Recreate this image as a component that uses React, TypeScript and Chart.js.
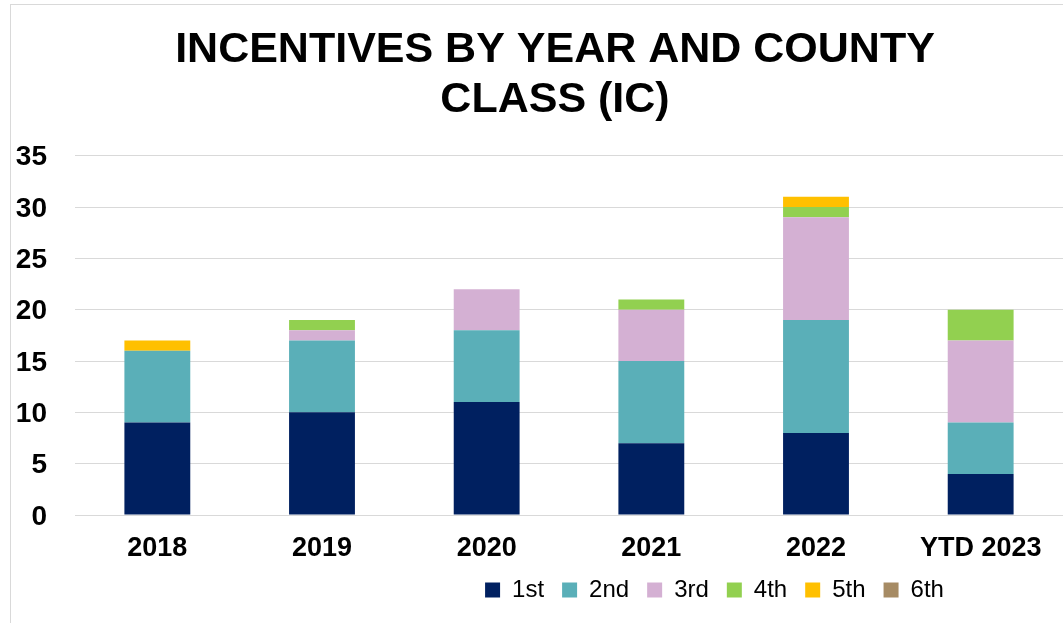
import React, { useEffect, useRef } from "react";
import { Chart, registerables } from "chart.js";

Chart.register(...registerables);

const categories = ["2018", "2019", "2020", "2021", "2022", "YTD 2023"];
const seriesNames = ["1st", "2nd", "3rd", "4th", "5th", "6th"];
const first = [9, 10, 11, 7, 8, 4];
const second = [7, 7, 7, 8, 11, 5];
const third = [0, 1, 4, 5, 10, 8];
const fourth = [0, 1, 0, 1, 1, 3];
const fifth = [1, 0, 0, 0, 1, 0];
const sixth = [0, 0, 0, 0, 0, 0];
const colors = ["#002060", "#5AAFB8", "#D4B0D3", "#92D050", "#FFC000", "#A68B64"];
const titleLines = ["INCENTIVES BY YEAR AND COUNTY", "CLASS (IC)"];

const FONT = "'Liberation Sans', Arial, sans-serif";

export default function App() {
  const ref = useRef<HTMLCanvasElement | null>(null);

  useEffect(() => {
    if (!ref.current) return;
    const values = [first, second, third, fourth, fifth, sixth];
    const positionPlugin = {
      id: "positionBlocks",
      afterLayout(chart: any) {
        if (chart.titleBlock) {
          chart.titleBlock.left = 47;
          chart.titleBlock.right = 1063;
        }
        if (chart.legend) {
          chart.legend.left = 366;
          chart.legend.right = 1063;
        }
      },
    };
    const chart = new Chart(ref.current, {
      type: "bar",
      data: {
        labels: categories,
        datasets: seriesNames.map((name, i) => ({
          label: name,
          data: values[i],
          backgroundColor: colors[i],
          borderWidth: 0,
          barPercentage: 0.4,
          categoryPercentage: 1,
        })),
      },
      options: {
        animation: false,
        responsive: true,
        maintainAspectRatio: false,
        layout: { padding: { left: 0, right: 0, top: 0, bottom: 11 } },
        plugins: {
          title: {
            display: true,
            text: titleLines,
            color: "#000000",
            font: { family: FONT, size: 43, weight: "bold", lineHeight: 1.16 },
            padding: { top: 25, bottom: 31 },
          },
          legend: {
            position: "bottom",
            labels: {
              color: "#000000",
              font: { family: FONT, size: 24 },
              boxWidth: 15,
              boxHeight: 15,
              padding: 18,
            },
          },
          tooltip: { enabled: false },
        },
        scales: {
          x: {
            stacked: true,
            grid: { display: false, drawTicks: false },
            border: { display: true, color: "#d9d9d9", width: 1 },
            ticks: {
              color: "#000000",
              font: { family: FONT, size: 27, weight: "bold" },
              padding: 17,
              maxRotation: 0,
              autoSkip: false,
            },
            afterFit(scale: any) {
              scale.height = 45;
            },
          },
          y: {
            stacked: true,
            min: 0,
            max: 35,
            grid: { color: "#d9d9d9", lineWidth: 1, drawTicks: false },
            border: { display: false },
            ticks: {
              stepSize: 5,
              color: "#000000",
              font: { family: FONT, size: 28, weight: "bold" },
              padding: 28,
              labelOffset: 2,
            },
            afterFit(scale: any) {
              scale.width = 75;
            },
          },
        },
      },
      plugins: [positionPlugin],
    });
    return () => chart.destroy();
  }, []);

  return (
    <div style={{ position: "fixed", left: 0, top: 0, width: 1063, height: 623, background: "#ffffff" }}>
      <div
        style={{
          position: "absolute",
          left: 10,
          top: 4,
          width: 1070,
          height: 640,
          border: "1px solid #d9d9d9",
          boxSizing: "border-box",
        }}
      />
      <div style={{ position: "absolute", left: 0, top: 0, width: 1063, height: 623 }}>
        <canvas ref={ref} />
      </div>
    </div>
  );
}
